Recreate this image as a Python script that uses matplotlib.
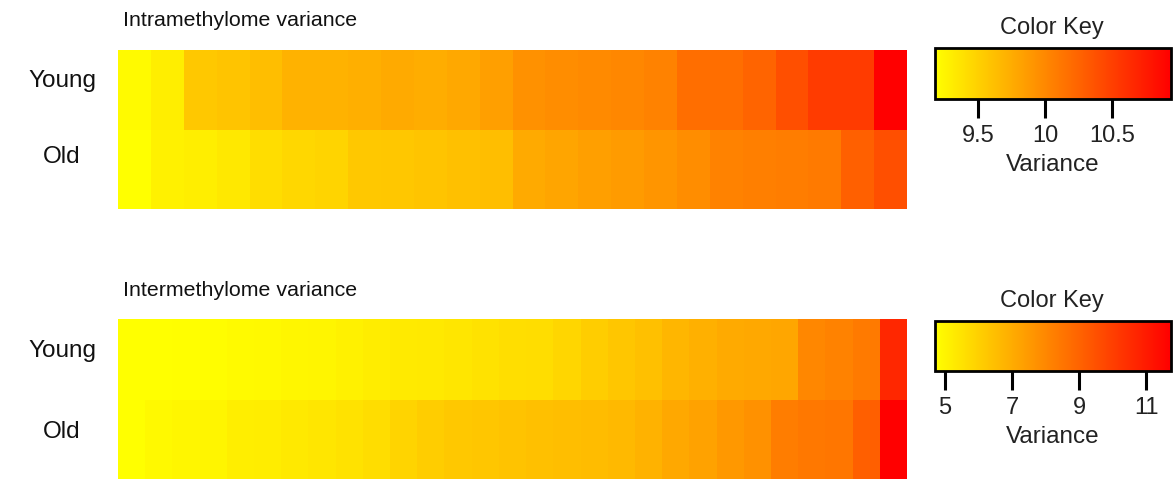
import numpy as np
import matplotlib
matplotlib.use("Agg")
import matplotlib.pyplot as plt
from matplotlib.colors import LinearSegmentedColormap, Normalize
from matplotlib.cm import ScalarMappable

plt.rcParams['font.family'] = ['Liberation Sans', 'DejaVu Sans']

# ---------------- data ----------------
row_labels = ["Young", "Old"]

intra_title = "Intramethylome variance"
intra_young = [9.22, 9.30, 9.56, 9.59, 9.63, 9.71, 9.71, 9.73, 9.77, 9.75, 9.78, 9.84,
               9.94, 9.97, 9.99, 10.01, 10.04, 10.18, 10.18, 10.25, 10.39, 10.53, 10.53, 10.94]
intra_old = [9.18, 9.28, 9.30, 9.34, 9.42, 9.46, 9.48, 9.56, 9.57, 9.59, 9.62, 9.63,
             9.77, 9.80, 9.84, 9.87, 9.91, 9.97, 10.04, 10.06, 10.08, 10.10, 10.28, 10.39]
intra_ticks = [9.5, 10, 10.5]
intra_ticklabels = ["9.5", "10", "10.5"]

inter_title = "Intermethylome variance"
inter_young = [4.70, 4.70, 4.73, 4.78, 4.84, 4.89, 4.95, 5.00, 5.11, 5.22, 5.28, 5.33,
               5.39, 5.50, 5.61, 5.66, 5.83, 6.08, 6.27, 6.44, 6.71, 6.88, 7.05, 7.10,
               7.16, 8.01, 8.15, 8.37, 10.64]
inter_old = [4.70, 4.89, 4.95, 5.00, 5.17, 5.22, 5.33, 5.39, 5.50, 5.66, 5.89, 6.08,
             6.22, 6.27, 6.36, 6.44, 6.49, 6.55, 6.63, 6.83, 7.10, 7.27, 7.54, 7.74,
             8.29, 8.43, 8.48, 9.12, 11.74]
inter_ticks = [5, 7, 9, 11]
inter_ticklabels = ["5", "7", "9", "11"]

key_title = "Color Key"
key_label = "Variance"

# ---------------- figure ----------------
W, H = 1176, 479
fig = plt.figure(figsize=(W / 100, H / 100), dpi=100)
cmap = LinearSegmentedColormap.from_list("yr", ["#FFFF00", "#FF0000"])


def ax_px(l, t, r, b):
    return fig.add_axes([l / W, 1 - b / H, (r - l) / W, (b - t) / H])


def panel(top_off, young, old, title, ticks, ticklabels, hm_box, key_box, label_y):
    data = np.array([young, old])
    vmin, vmax = data.min(), data.max()
    norm = Normalize(vmin=vmin, vmax=vmax)
    ax = ax_px(*hm_box)
    n = data.shape[1]
    ax.pcolormesh(np.arange(n + 1), np.arange(3), data, cmap=cmap, norm=norm,
                  shading='flat', antialiased=False, edgecolors='none')
    ax.set_xlim(0, n)
    ax.set_ylim(2, 0)
    ax.axis('off')

    for lab, yy in zip(row_labels, label_y):
        fig.text(62 / W, 1 - yy / H, lab, ha='center', va='center',
                 fontsize=17.5, color='#111111')
    fig.text(123 / W, 1 - (top_off) / H, title, ha='left', va='center',
             fontsize=15.4, color='#111111')

    cax = ax_px(*key_box)
    cb = fig.colorbar(ScalarMappable(norm=norm, cmap=cmap), cax=cax,
                      orientation='horizontal')
    cb.outline.set_linewidth(2.0)
    cb.outline.set_edgecolor('black')
    cb.set_ticks(ticks)
    cb.set_ticklabels(ticklabels)
    cax.tick_params(axis='x', length=13.5, width=2.2, pad=5.5, labelsize=17,
                    colors='black', labelcolor='#222222')
    kl, kt, kr, kb = key_box
    kc = (kl + kr) / 2
    fig.text((kc - 1.5) / W, 1 - (kt - 20) / H, key_title, ha='center', va='center',
             fontsize=17, color='#222222')
    fig.text((kc) / W, 1 - (kb + 66) / H, key_label, ha='center', va='center',
             fontsize=17.5, color='#222222')


panel(20, intra_young, intra_old, intra_title, intra_ticks, intra_ticklabels,
      (118, 50, 907, 209), (935, 48, 1171, 99), (81, 157))
panel(290, inter_young, inter_old, inter_title, inter_ticks, inter_ticklabels,
      (118, 319, 907, 481), (935, 321, 1171, 371), (351, 432))

fig.savefig("out.png", dpi=100)
